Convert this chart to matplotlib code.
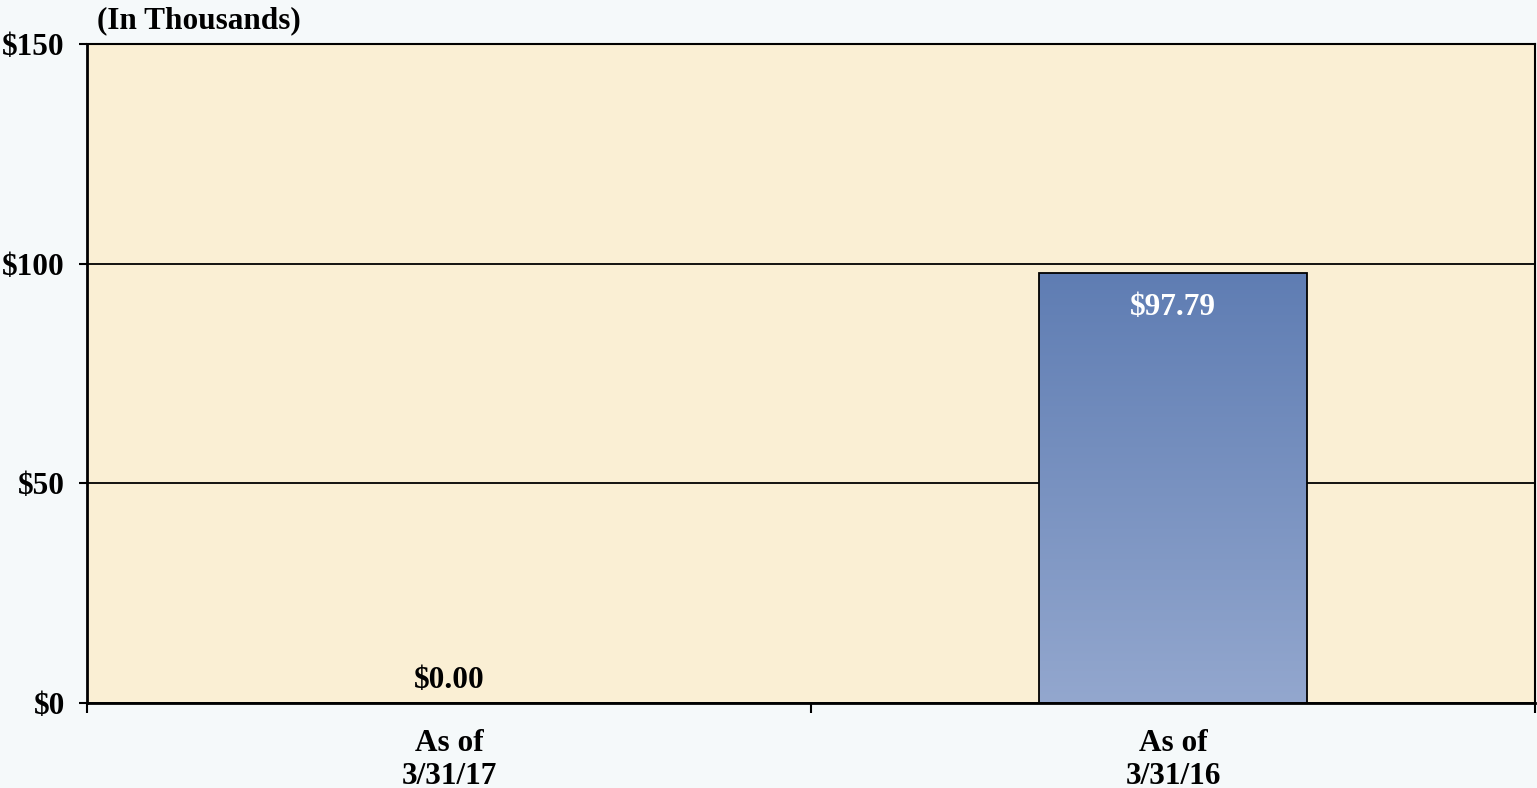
import numpy as np
import matplotlib.pyplot as plt
from matplotlib.colors import LinearSegmentedColormap

categories = ['As of\n3/31/17', 'As of\n3/31/16']
values = [0.00, 97.79]
yticks = [0, 50, 100, 150]

plt.rcParams['font.family'] = ['Liberation Serif', 'DejaVu Serif']
plt.rcParams['font.weight'] = 'bold'

fig = plt.figure(figsize=(15.37, 7.88), dpi=100, facecolor='#F5F9FA')
ax = fig.add_axes([87/1537, 85/788, 1448/1537, 659/788])
ax.set_facecolor('#FAEFD4')

x = np.arange(len(categories))
bars = ax.bar(x, values, width=0.37, color='none', edgecolor='black', linewidth=1.3, zorder=3)

# vertical gradient inside each bar
grad = LinearSegmentedColormap.from_list('g', ['#93A7CE', '#5F7DB3'])
for b in bars:
    if b.get_height() <= 0:
        continue
    x0, w, h = b.get_x(), b.get_width(), b.get_height()
    im = ax.imshow(np.linspace(0, 1, 256).reshape(-1, 1), cmap=grad, origin='lower',
                   extent=[x0, x0 + w, 0, h], aspect='auto', zorder=2)
    im.set_clip_path(b)

for b, v in zip(bars, values):
    cx = b.get_x() + b.get_width() / 2
    if v > 10:
        ax.text(cx, v - 4.5, '${:.2f}'.format(v), ha='center', va='top', color='white',
                fontsize=22.5, fontweight='bold', zorder=4)
    else:
        ax.text(cx, v + 1.8, '${:.2f}'.format(v), ha='center', va='bottom', color='black',
                fontsize=22.5, fontweight='bold', zorder=4)

ax.set_xlim(-0.5, len(categories) - 0.5)
ax.set_ylim(0, 150)
ax.set_yticks(yticks)
ax.set_yticklabels(['${}'.format(t) for t in yticks])
ax.yaxis.grid(True, color='black', linewidth=1.3, zorder=1)
ax.set_axisbelow(True)

ax.set_xticks(x)
ax.set_xticklabels(categories, linespacing=1.15)
ax.set_xticks(np.arange(len(categories) + 1) - 0.5, minor=True)
ax.tick_params(axis='x', which='major', length=0, pad=19, labelsize=22.5)
ax.tick_params(axis='x', which='minor', length=7, width=1.5, direction='out')
ax.tick_params(axis='y', length=6, width=1.5, direction='out', labelsize=22.5, pad=10)
for lbl in ax.get_xticklabels() + ax.get_yticklabels():
    lbl.set_fontweight('bold')

for s in ['left', 'bottom']:
    ax.spines[s].set_linewidth(2)
for s in ['right', 'top']:
    ax.spines[s].set_linewidth(1.5)

fig.text(97/1537, 1 - 21/788, '(In Thousands)', ha='left', va='center',
         fontsize=22.5, fontweight='bold')

fig.savefig('out.png', dpi=100, facecolor=fig.get_facecolor())
